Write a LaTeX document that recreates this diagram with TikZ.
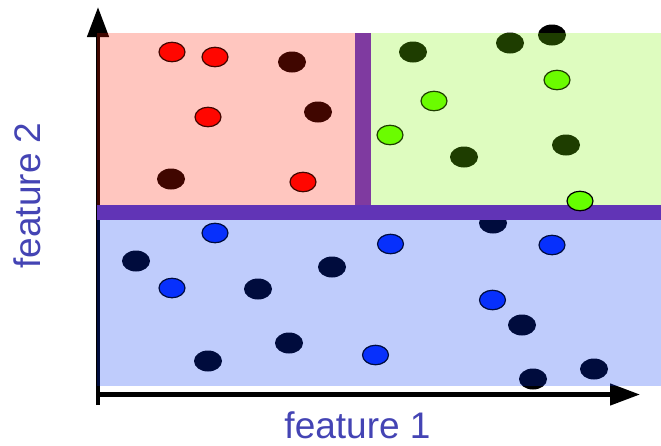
\documentclass[tikz,border=0pt]{standalone}
\usepackage{fontspec}
\setmainfont{Liberation Sans}
\usetikzlibrary{shapes.geometric,arrows.meta}
\definecolor{ovred}{RGB}{255,26,0}
\definecolor{ovgreen}{RGB}{122,245,0}
\definecolor{ovblue}{RGB}{0,51,245}
\definecolor{brred}{RGB}{255,0,0}
\definecolor{brgreen}{RGB}{102,255,0}
\definecolor{brblue}{RGB}{10,48,255}
\definecolor{barv}{RGB}{127,58,160}
\definecolor{barh}{RGB}{97,52,182}
\definecolor{labcol}{RGB}{68,68,180}
\tikzset{
  dark/.style={ellipse, fill=black, minimum width=28pt, minimum height=21pt, inner sep=0pt},
  bright/.style={ellipse, draw=black, line width=1.2pt, fill=#1, minimum width=26pt, minimum height=19.5pt, inner sep=0pt},
  axis/.style={line width=4.5pt, -{Triangle[length=30pt,width=21pt]}},
  lab/.style={text=labcol, font=\fontsize{37}{39}\selectfont, inner sep=0pt}
}
\begin{document}
\begin{tikzpicture}[x=1pt,y=-1pt]
\useasboundingbox (0,0) rectangle (661,445);
% axes
\coordinate (yb) at (98,405);
\coordinate (yt) at (98,7);
\coordinate (xl) at (96,394.5);
\coordinate (xr) at (640,394.5);
\draw[axis] (yb) -- (yt);
\draw[axis] (xl) -- (xr);
% red region dots
\node[bright=brred] (r1) at (172,52) {};
\node[bright=brred] (r2) at (215,57) {};
\node[dark] (r3) at (292,62) {};
\node[bright=brred] (r4) at (208,117) {};
\node[dark] (r5) at (318,112) {};
\node[dark] (r6) at (171,179) {};
\node[bright=brred] (r7) at (303,182) {};
% green region dots
\node[dark] (g1) at (413,52) {};
\node[dark] (g2) at (510,43) {};
\node[dark] (g3) at (552,35) {};
\node[dark] (g4) at (464,157) {};
\node[dark] (g5) at (566,145) {};
\node[bright=brgreen] (g6) at (434,101) {};
\node[bright=brgreen] (g7) at (390,135) {};
\node[bright=brgreen] (g8) at (557,80) {};
% blue region dots
\node[bright=brblue] (b1) at (215,233) {};
\node[bright=brblue] (b2) at (172,288) {};
\node[bright=brblue] (b3) at (390.5,244) {};
\node[bright=brblue] (b4) at (552,245) {};
\node[bright=brblue] (b5) at (492.5,300) {};
\node[bright=brblue] (b6) at (375.5,355) {};
\node[dark] (k1) at (136,261) {};
\node[dark] (k2) at (258,289) {};
\node[dark] (k3) at (332,267) {};
\node[dark] (k4) at (493,223) {};
\node[dark] (k5) at (522,325) {};
\node[dark] (k6) at (289,343) {};
\node[dark] (k7) at (208,361) {};
\node[dark] (k8) at (533,379) {};
\node[dark] (k9) at (594,369) {};
% translucent class regions
\fill[ovred, fill opacity=0.25] (97,33) rectangle (355,205);
\fill[ovgreen, fill opacity=0.25] (371,33) rectangle (661,205);
\fill[ovblue, fill opacity=0.25] (97,220) rectangle (661,386);
% decision boundaries
\fill[barv] (355,33) rectangle (371,205);
\fill[barh] (97,205) rectangle (661,220);
% dot lying on the boundary
\node[bright=brgreen] (g9) at (580,201) {};
% labels
\node[lab, anchor=base] (f1) at (357.5,438) {feature 1};
\node[lab, anchor=base, rotate=90] (f2) at (40,195.5) {feature 2};
\end{tikzpicture}
\end{document}
